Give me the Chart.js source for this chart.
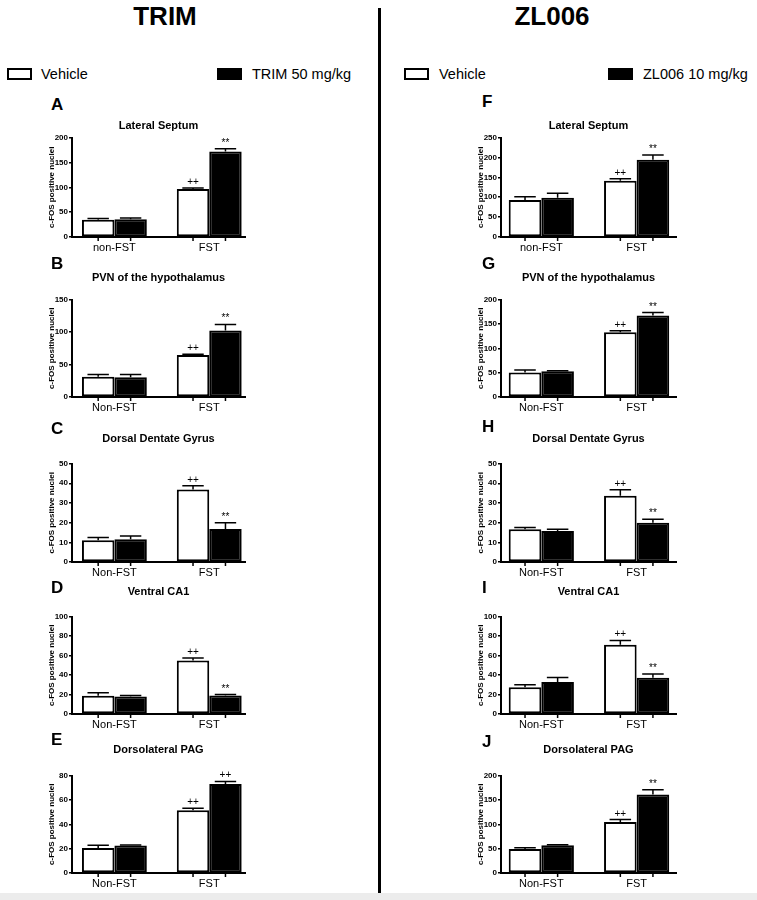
<!DOCTYPE html>
<html>
<head>
    <title>c-FOS positive nuclei</title>
    <script src="https://cdn.jsdelivr.net/npm/chart.js"></script>
    <style>
        body {
            margin: 0;
            width: 757px;
            height: 900px;
            position: relative;
            background-color: #ffffff;
            font-family: "Liberation Sans", Arial, sans-serif;
            overflow: hidden;
        }

        .abs { position: absolute; white-space: nowrap; }

        .head {
            font-size: 26px;
            font-weight: bold;
            line-height: 30px;
            top: 1px;
            width: 200px;
            text-align: center;
        }

        .letter {
            font-size: 17px;
            font-weight: bold;
            line-height: 18px;
        }

        .box {
            box-sizing: border-box;
            height: 12px;
            border: 2.5px solid #000;
        }

        .legtext {
            font-size: 14.5px;
            line-height: 18px;
            top: 65px;
        }

        #divider {
            left: 378px;
            top: 8px;
            width: 3px;
            height: 885px;
            background: #000;
        }

        #footer {
            left: 0;
            top: 893px;
            width: 757px;
            height: 7px;
            background: #ececec;
        }
    </style>
</head>
<body>
    <div class="abs head" style="left:65px">TRIM</div>
    <div class="abs head" style="left:452px">ZL006</div>
    <div class="abs" id="divider"></div>
    <div class="abs" id="footer"></div>

    <div class="abs box" style="left:7px; top:68px; width:25px; background:#fff"></div>
    <div class="abs legtext" style="left:41px">Vehicle</div>
    <div class="abs box" style="left:217px; top:68px; width:25px; background:#000"></div>
    <div class="abs legtext" style="left:252px">TRIM 50 mg/kg</div>

    <div class="abs box" style="left:404px; top:68px; width:25px; background:#fff"></div>
    <div class="abs legtext" style="left:439px">Vehicle</div>
    <div class="abs box" style="left:608px; top:68px; width:25px; background:#000"></div>
    <div class="abs legtext" style="left:643px">ZL006 10 mg/kg</div>

    <script>
        // ---- data ----
        var regions = ['Lateral Septum', 'PVN of the hypothalamus', 'Dorsal Dentate Gyrus', 'Ventral CA1', 'Dorsolateral PAG'];
        var groupsFirst = ['non-FST', 'FST'];
        var groupsOther = ['Non-FST', 'FST'];
        var trimLetters = ['A', 'B', 'C', 'D', 'E'];
        var zlLetters = ['F', 'G', 'H', 'I', 'J'];

        var trimVehicle    = [[34.5, 96.5], [31, 64.5], [11, 36.8], [18.8, 55], [20.5, 51.5]];
        var trimVehicleErr = [[2.7, 2], [3.6, 1.5], [1.4, 2], [3, 2.4], [2.2, 1.7]];
        var trimDrug       = [[35.5, 172], [30.5, 102.5], [11.6, 16.8], [18, 19], [22.5, 73]];
        var trimDrugErr    = [[2.7, 5.5], [4, 9.3], [1.6, 3.2], [1, 1], [0.4, 2.2]];

        var zlVehicle    = [[93, 141.5], [50.5, 133], [16.6, 33.7], [27.4, 71], [49.3, 104.8]];
        var zlVehicleErr = [[8, 5], [5, 3], [0.9, 3], [2.7, 4.5], [2.7, 4.8]];
        var zlDrug       = [[99, 194], [53, 167.5], [15.7, 20], [32.9, 37.3], [56.8, 161]];
        var zlDrugErr    = [[11, 12], [1, 6], [1, 1.7], [4.5, 3.8], [1.4, 10]];

        var trimYMax  = [200, 150, 50, 100, 80];
        var trimYStep = [50, 50, 10, 20, 20];
        var zlYMax    = [250, 200, 50, 100, 200];
        var zlYStep   = [50, 50, 10, 20, 50];

        var trimVehicleMark = ['++', '++', '++', '++', '++'];
        var trimDrugMark    = ['**', '**', '**', '**', '++'];
        var zlVehicleMark   = ['++', '++', '++', '++', '++'];
        var zlDrugMark      = ['**', '**', '**', '**', '**'];

        // ---- page layout ----
        var rowTitleY   = [126, 278, 439, 592, 750];
        var rowPlotTop  = [138, 300, 464, 617, 776];
        var rowPlotBot  = [237, 397, 562, 714, 873];
        var trimLetterY = [105, 264, 429, 588, 740];
        var zlLetterY   = [102, 264, 427, 588, 742];
        var columns = [
            { plotLeft: 72, plotRight: 245, letterLeft: 51, xMin: -0.447, xMax: 1.377 },
            { plotLeft: 501, plotRight: 676, letterLeft: 482, xMin: -0.423, xMax: 1.413 }
        ];
        var yAxisWidth = 33;
        var xAxisHeight = 20;
        var FONT = '"Liberation Sans", Arial, sans-serif';

        // error bars (upward only), significance marks and tick marks under bars
        var errorBarPlugin = {
            id: 'errorBars',
            afterDatasetsDraw: function (chart) {
                var ctx = chart.ctx;
                var yScale = chart.scales.y;
                var bottom = chart.chartArea.bottom;
                ctx.save();
                ctx.strokeStyle = '#000';
                ctx.fillStyle = '#000';
                chart.data.datasets.forEach(function (ds, i) {
                    var meta = chart.getDatasetMeta(i);
                    meta.data.forEach(function (bar, j) {
                        var top = yScale.getPixelForValue(ds.data[j].y + ds.errors[j]);
                        var half = bar.width * 0.33;
                        ctx.lineWidth = 1.5;
                        ctx.beginPath();
                        ctx.moveTo(bar.x, bar.y);
                        ctx.lineTo(bar.x, top);
                        ctx.moveTo(bar.x - half, top);
                        ctx.lineTo(bar.x + half, top);
                        ctx.moveTo(bar.x, bottom);
                        ctx.lineTo(bar.x, bottom + 4);
                        ctx.stroke();
                        if (j === 1) {
                            ctx.font = '10px ' + FONT;
                            ctx.textAlign = 'center';
                            ctx.textBaseline = 'alphabetic';
                            ctx.fillText(ds.mark, bar.x, top - 3);
                        }
                    });
                });
                ctx.restore();
            }
        };

        function addLetter(text, left, centerY) {
            var d = document.createElement('div');
            d.className = 'abs letter';
            d.style.left = left + 'px';
            d.style.top = (centerY - 9) + 'px';
            d.textContent = text;
            document.body.appendChild(d);
        }

        function points(values) {
            return values.map(function (v, i) { return { x: i, y: v }; });
        }

        function makePanel(col, row, letters, letterY, veh, vehErr, vehMark, drug, drugErr, drugMark, yMax, yStep) {
            var c = columns[col];
            addLetter(letters[row], c.letterLeft, letterY[row]);

            var labels = row === 0 ? groupsFirst : groupsOther;
            var titleY = rowTitleY[row];
            var canvasTop = titleY - 8.6;
            var titleBottomPad = rowPlotTop[row] - (titleY + 6.6);
            var canvasHeight = Math.round(rowPlotBot[row] + xAxisHeight - canvasTop);
            var canvasLeft = c.plotLeft - yAxisWidth;
            var canvasWidth = c.plotRight + 6 - canvasLeft;

            var canvas = document.createElement('canvas');
            canvas.width = canvasWidth;
            canvas.height = canvasHeight;
            canvas.style.position = 'absolute';
            canvas.style.left = canvasLeft + 'px';
            canvas.style.top = canvasTop + 'px';
            document.body.appendChild(canvas);

            new Chart(canvas.getContext('2d'), {
                type: 'bar',
                data: {
                    datasets: [{
                        label: 'Vehicle',
                        data: points(veh[row]),
                        errors: vehErr[row],
                        mark: vehMark[row],
                        backgroundColor: '#ffffff',
                        borderColor: '#000000',
                        borderWidth: 2,
                        borderSkipped: false,
                        categoryPercentage: 0.684,
                        barPercentage: 1.0
                    }, {
                        label: col === 0 ? 'TRIM 50 mg/kg' : 'ZL006 10 mg/kg',
                        data: points(drug[row]),
                        errors: drugErr[row],
                        mark: drugMark[row],
                        backgroundColor: '#000000',
                        borderColor: '#000000',
                        borderWidth: 2,
                        borderSkipped: false,
                        categoryPercentage: 0.684,
                        barPercentage: 1.0
                    }]
                },
                options: {
                    responsive: false,
                    animation: false,
                    layout: { padding: { left: 0, right: 6, top: 0, bottom: 0 } },
                    plugins: {
                        legend: { display: false },
                        tooltip: { enabled: false },
                        title: {
                            display: true,
                            text: regions[row],
                            fullSize: false,
                            color: '#000',
                            font: { family: FONT, size: 11, weight: 'bold', lineHeight: 1.2 },
                            padding: { top: 2, bottom: titleBottomPad }
                        }
                    },
                    scales: {
                        x: {
                            type: 'linear',
                            offset: false,
                            min: c.xMin,
                            max: c.xMax,
                            grid: { display: false, drawTicks: false, offset: false },
                            border: { display: true, color: '#000', width: 2 },
                            afterBuildTicks: function (scale) {
                                scale.ticks = labels.map(function (l, i) { return { value: i }; });
                            },
                            ticks: {
                                color: '#000',
                                padding: 4,
                                autoSkip: false,
                                maxRotation: 0,
                                font: { family: FONT, size: 11 },
                                callback: function (value) { return labels[value]; }
                            },
                            afterFit: function (scale) { scale.height = xAxisHeight; }
                        },
                        y: {
                            min: 0,
                            max: yMax[row],
                            ticks: {
                                stepSize: yStep[row],
                                color: '#000',
                                padding: 1,
                                font: { family: FONT, size: 8, weight: 'bold' }
                            },
                            grid: { drawOnChartArea: false, drawTicks: true, tickLength: 3, color: '#000', lineWidth: 1.5 },
                            border: { display: true, color: '#000', width: 2 },
                            title: {
                                display: true,
                                text: 'c-FOS positive nuclei',
                                color: '#000',
                                padding: { top: 8, bottom: 0 },
                                font: { family: FONT, size: 8, weight: 'bold' }
                            },
                            afterFit: function (scale) { scale.width = yAxisWidth; }
                        }
                    }
                },
                plugins: [errorBarPlugin]
            });
        }

        for (var r = 0; r < 5; r++) {
            makePanel(0, r, trimLetters, trimLetterY, trimVehicle, trimVehicleErr, trimVehicleMark,
                      trimDrug, trimDrugErr, trimDrugMark, trimYMax, trimYStep);
            makePanel(1, r, zlLetters, zlLetterY, zlVehicle, zlVehicleErr, zlVehicleMark,
                      zlDrug, zlDrugErr, zlDrugMark, zlYMax, zlYStep);
        }
    </script>
</body>
</html>
